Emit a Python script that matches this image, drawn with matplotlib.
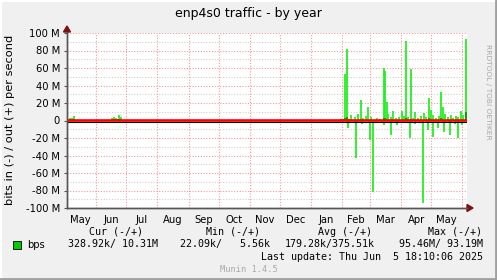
import matplotlib
matplotlib.use("Agg")
import matplotlib.pyplot as plt
from matplotlib.patches import Rectangle, Polygon
import datetime as dt

# ---------------- data ----------------
title = "enp4s0 traffic - by year"
ylabel = "bits in (-) / out (+) per second"
start = dt.datetime(2024, 5, 2, 18, 10)
end = dt.datetime(2025, 6, 5, 18, 10)
month_names = ["May", "Jun", "Jul", "Aug", "Sep", "Oct", "Nov", "Dec",
               "Jan", "Feb", "Mar", "Apr", "May"]
yticks = [-100e6, -80e6, -60e6, -40e6, -20e6, 0, 20e6, 40e6, 60e6, 80e6, 100e6]
ytick_labels = ["-100 M", "-80 M", "-60 M", "-40 M", "-20 M", "0",
                "20 M", "40 M", "60 M", "80 M", "100 M"]

# out (+) maxima: day offset from start, value in bits/s
out_days = [3, 5, 7, 45, 47, 49, 52, 54,
            273, 277, 279, 283, 287, 290, 293, 295, 298, 300, 303, 309, 312,
            316, 317, 319, 320, 323, 325, 328, 331, 334, 336, 338, 340, 343,
            345, 347, 350, 353, 356, 358, 361, 363, 365, 368, 371, 373, 375,
            377, 380, 383, 385, 388, 390, 393, 395, 398, 399]
out_vals = [3e6, 3e6, 5e6, 3e6, 4e6, 3e6, 6e6, 4e6,
            2e6, 53e6, 82e6, 6e6, 4e6, 7e6, 24e6, 3e6, 5e6, 16e6, 4e6, 3e6, 2e6,
            60e6, 57e6, 21e6, 7e6, 4e6, 11e6, 3e6, 4e6, 11e6, 5e6, 91e6, 4e6, 59e6,
            3e6, 10e6, 3e6, 5e6, 9e6, 4e6, 26e6, 12e6, 6e6, 3e6, 5e6, 33e6, 15e6,
            8e6, 4e6, 6e6, 3e6, 5e6, 4e6, 11e6, 6e6, 93e6, 12e6]

# in (-) maxima
in_days = [52, 280, 288, 294, 302, 305, 316, 323, 329, 335, 342, 347, 355,
           360, 365, 370, 376, 382, 387, 390, 394]
in_vals = [-2e6, -9e6, -43e6, -4e6, -22e6, -82e6, -5e6, -17e6, -5e6, -3e6,
           -20e6, -4e6, -94e6, -11e6, -19e6, -9e6, -13e6, -17e6, -4e6, -20e6, -5e6]

# averages (darker)
avg_days = [3, 4, 5, 6, 7, 46, 48, 50, 52, 53, 273, 275, 277, 279, 281, 293,
            316, 317, 318, 338, 339, 343, 361, 362, 373, 374, 398, 399]
avg_vals = [1.5e6, 1.5e6, 1.5e6, 1.5e6, 1.5e6, 1.5e6, 1.5e6, 2e6, 2e6, 1.5e6,
            1.5e6, 2e6, 3e6, 4e6, 2e6, 2e6, 3e6, 3e6, 2e6, 3e6, 2e6, 2e6,
            3e6, 2e6, 3e6, 2e6, 10e6, 10e6]

legend_name = "bps"
cur_txt = "328.92k/ 10.31M"
min_txt = "22.09k/   5.56k"
avg_txt = "179.28k/375.51k"
max_txt = "95.46M/ 93.19M"
last_update = "Last update: Thu Jun  5 18:10:06 2025"
version = "Munin 1.4.5"
watermark = "RRDTOOL / TOBI OETIKER"

# ---------------- figure ----------------
W, H = 497, 280
fig = plt.figure(figsize=(W / 100, H / 100), dpi=100)
fig.patch.set_facecolor("#f0f0f0")

def fx(px):
    return px / W

def fy(py):
    return 1 - py / H

# 3D border
fig.add_artist(plt.Line2D([0, 1], [fy(0.5), fy(0.5)], color="#ffffff", lw=1.5))
fig.add_artist(plt.Line2D([fx(0.5), fx(0.5)], [0, 1], color="#ffffff", lw=1.5))
fig.add_artist(plt.Line2D([0, 1], [fy(279), fy(279)], color="#a0a0a0", lw=2))
fig.add_artist(plt.Line2D([fx(496), fx(496)], [0, 1], color="#a0a0a0", lw=2))

L, R, T, B = 67, 467, 33, 208
ax = fig.add_axes([fx(L), fy(B), fx(R - L), (B - T) / H])
ax.set_facecolor("white")
total_days = (end - start).total_seconds() / 86400
ax.set_xlim(0, total_days)
ax.set_ylim(-100e6, 100e6)

def dayof(d):
    return (d - start).total_seconds() / 86400

# month boundaries and label positions
bounds = []
mids = []
y, m = 2024, 5
for i in range(len(month_names) + 1):
    bounds.append(dt.datetime(y, m, 1))
    m += 1
    if m > 12:
        m = 1
        y += 1
for i in range(len(month_names)):
    a, b = bounds[i], bounds[i + 1]
    mids.append(dayof(a + (b - a) / 2))

# grid
for v in range(-100, 101, 10):
    if v % 20 != 0:
        ax.axhline(v * 1e6, color="#d0d0d0", lw=0.8, ls=(0, (1, 1.5)), zorder=1)
for v in yticks:
    ax.axhline(v, color="#f09a9a", lw=0.8, ls=(0, (1, 1.5)), zorder=1)
for bd in bounds[1:]:
    d = dayof(bd)
    if 0 < d < total_days:
        ax.axvline(d, color="#f09a9a", lw=0.8, ls=(0, (1, 1.5)), zorder=1)

# data
ax.vlines(out_days, 0, out_vals, color="#22f022", lw=1.3, zorder=3)
ax.vlines(in_days, 0, in_vals, color="#22f022", lw=1.3, zorder=3)
ax.vlines(avg_days, 0, avg_vals, color="#00a800", lw=1.5, zorder=4)

# zero lines
ax.axhline(-1.7e6, color="black", lw=0.8, zorder=5)
ax.axhline(0.6e6, color="#ff0000", lw=1.9, zorder=6)

# axes styling
for s in ["top", "right"]:
    ax.spines[s].set_visible(False)
ax.spines["left"].set_color("#555555")
ax.spines["bottom"].set_color("#555555")
ax.spines["left"].set_linewidth(1)
ax.spines["bottom"].set_linewidth(1)
ax.set_yticks(yticks)
ax.set_yticklabels(ytick_labels)
ax.set_xticks(mids)
ax.set_xticklabels(month_names)
ax.tick_params(axis="both", length=2, width=0.8, color="#555555",
               labelsize=7.2, labelcolor="black", pad=3)
ax.tick_params(axis="x", length=0, pad=5)

# arrows
ax_arrow_col = "#7f1010"
fig.add_artist(Polygon([[fx(L - 3.5), fy(32)], [fx(L + 3.5), fy(32)], [fx(L), fy(26)]],
                       closed=True, color=ax_arrow_col))
fig.add_artist(Polygon([[fx(R), fy(B - 3.5)], [fx(R), fy(B + 3.5)], [fx(R + 6), fy(B)]],
                       closed=True, color=ax_arrow_col))
fig.add_artist(plt.Line2D([fx(L), fx(L)], [fy(B), fy(32)], color="#555555", lw=1))
fig.add_artist(plt.Line2D([fx(L), fx(R)], [fy(B), fy(B)], color="#555555", lw=1))

# texts
fig.text(fx(248), fy(13), title, ha="center", va="center", fontsize=9.0)
fig.text(fx(10), fy(120), ylabel, ha="center", va="center", rotation=90, fontsize=8.2)
fig.text(fx(488), fy(92), watermark, ha="center", va="center", rotation=270,
         fontsize=5.4, color="#a8a8a8")

mono = "DejaVu Sans Mono"
fs = 7.2
fig.text(fx(116), fy(232), "Cur (-/+)", ha="center", va="center", family=mono, fontsize=fs)
fig.text(fx(233), fy(232), "Min (-/+)", ha="center", va="center", family=mono, fontsize=fs)
fig.text(fx(345), fy(232), "Avg (-/+)", ha="center", va="center", family=mono, fontsize=fs)
fig.text(fx(455), fy(232), "Max (-/+)", ha="center", va="center", family=mono, fontsize=fs)
fig.add_artist(Rectangle((fx(13), fy(249)), fx(8), 8 / H, facecolor="#00cc00",
                         edgecolor="black", lw=0.6))
fig.text(fx(27), fy(244.5), legend_name, ha="left", va="center", fontsize=fs)
fig.text(fx(158), fy(244.5), cur_txt, ha="right", va="center", family=mono, fontsize=fs)
fig.text(fx(270), fy(244.5), min_txt, ha="right", va="center", family=mono, fontsize=fs)
fig.text(fx(375), fy(244.5), avg_txt, ha="right", va="center", family=mono, fontsize=fs)
fig.text(fx(483), fy(244.5), max_txt, ha="right", va="center", family=mono, fontsize=fs)
fig.text(fx(483), fy(257), last_update, ha="right", va="center", family=mono, fontsize=fs)
fig.text(fx(249), fy(269), version, ha="center", va="center", family=mono,
         fontsize=6.2, color="#a8a8a8")

fig.savefig("out.png", dpi=100, facecolor=fig.get_facecolor())
